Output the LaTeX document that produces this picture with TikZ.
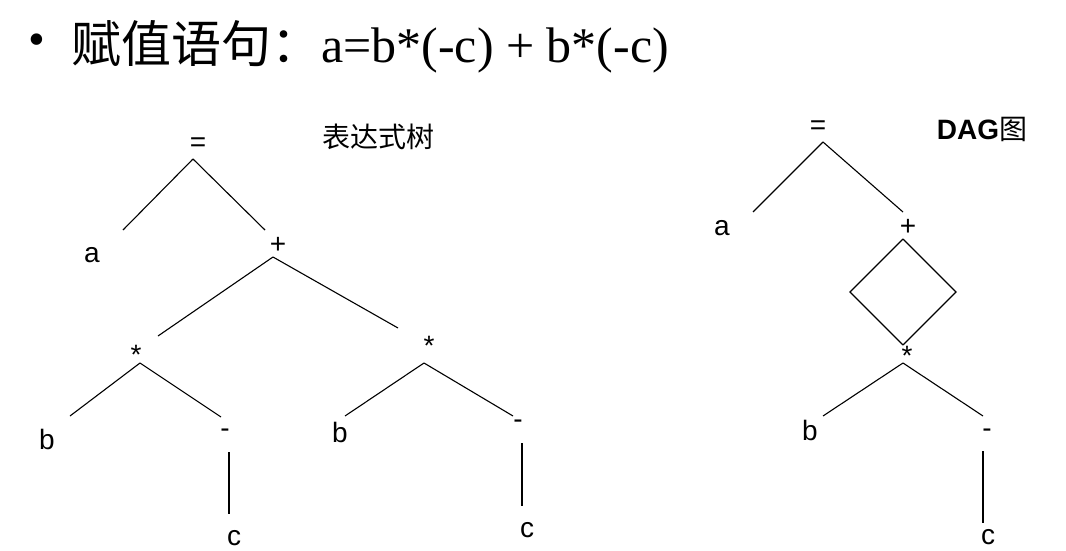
\documentclass[tikz,border=0pt]{standalone}
\usepackage{fontspec}
\setmainfont{Liberation Serif}
\newfontfamily\cjk{Noto Sans CJK SC}
\newfontfamily\arial{Liberation Sans}
\tikzset{
	lbl/.style={font=\arial\fontsize{28}{30}\selectfont, inner sep=0pt},
	edge/.style={line width=1.1pt},
}

\begin{document}
\begin{tikzpicture}[x=1pt, y=-1pt]
			%%%%% START %%%%%
			\useasboundingbox (0, 0) rectangle (1066, 551);
			
			\node[inner sep=0pt, font=\fontsize{48}{50}\selectfont] (bul) at (37, 45) {\textbullet};
			\node[anchor=base west, inner sep=0pt, font=\fontsize{50}{52}\selectfont] (title) at (71, 63) {{\cjk 赋值语句：}a=b*(-c) + b*(-c)};
			
			%%%%% expression tree %%%%%
			\node[inner sep=0pt, font=\cjk\fontsize{28}{30}\selectfont] (t-name) at (378, 137) {表达式树};
			
			\node[lbl] (t-eq) at (198, 145) {=};
			\node[lbl] (t-a) at (92, 255) {a};
			\node[lbl] (t-plus) at (278, 245) {+};
			\node[lbl] (t-mul1) at (136, 355) {*};
			\node[lbl] (t-mul2) at (429, 346) {*};
			\node[lbl] (t-b1) at (47, 439) {b};
			\node[lbl] (t-neg1) at (225, 433) {-};
			\node[lbl] (t-c1) at (234, 538) {c};
			\node[lbl] (t-b2) at (340, 432) {b};
			\node[lbl] (t-neg2) at (518, 424) {-};
			\node[lbl] (t-c2) at (527, 530) {c};
			
			\coordinate (t-eq-tip) at (193, 159);
			\coordinate (t-a-end) at (123, 230);
			\coordinate (t-plus-end) at (265, 230);
			\coordinate (t-plus-tip) at (273, 257);
			\coordinate (t-mul1-end) at (158, 336);
			\coordinate (t-mul1-tip) at (140, 363);
			\coordinate (t-mul2-end) at (398, 328);
			\coordinate (t-mul2-tip) at (424, 363);
			\coordinate (t-b1-end) at (70, 416);
			\coordinate (t-neg1-end) at (221, 417);
			\coordinate (t-neg1-tip) at (229, 452);
			\coordinate (t-c1-end) at (229, 514);
			\coordinate (t-b2-end) at (345, 416);
			\coordinate (t-neg2-end) at (513, 416);
			\coordinate (t-neg2-tip) at (522, 443);
			\coordinate (t-c2-end) at (522, 506);
			
			\draw[edge] (t-eq-tip) -- (t-a-end);
			\draw[edge] (t-eq-tip) -- (t-plus-end);
			\draw[edge] (t-plus-tip) -- (t-mul1-end);
			\draw[edge] (t-plus-tip) -- (t-mul2-end);
			\draw[edge] (t-mul1-tip) -- (t-b1-end);
			\draw[edge] (t-mul1-tip) -- (t-neg1-end);
			\draw[edge] (t-neg1-tip) -- (t-c1-end);
			\draw[edge] (t-mul2-tip) -- (t-b2-end);
			\draw[edge] (t-mul2-tip) -- (t-neg2-end);
			\draw[edge] (t-neg2-tip) -- (t-c2-end);
			
			%%%%% DAG %%%%%
			\node[inner sep=0pt, font=\arial\bfseries\fontsize{28}{30}\selectfont] (d-name) at (982, 129) {DAG{\cjk\mdseries 图}};
			
			\node[lbl] (d-eq) at (818, 128) {=};
			\node[lbl] (d-a) at (722, 228) {a};
			\node[lbl] (d-plus) at (908, 227) {+};
			\node[lbl] (d-mul) at (907, 356) {*};
			\node[lbl] (d-b) at (810, 430) {b};
			\node[lbl] (d-neg) at (987, 433) {-};
			\node[lbl] (d-c) at (988, 537) {c};
			
			\coordinate (d-eq-tip) at (823, 142);
			\coordinate (d-a-end) at (753, 212);
			\coordinate (d-plus-end) at (903, 212);
			\coordinate (d-plus-tip) at (903, 239);
			\coordinate (d-left) at (850, 292);
			\coordinate (d-right) at (956, 292);
			\coordinate (d-mul-end) at (903, 345);
			\coordinate (d-mul-tip) at (903, 363);
			\coordinate (d-b-end) at (823, 416);
			\coordinate (d-neg-end) at (983, 416);
			\coordinate (d-neg-tip) at (983, 451);
			\coordinate (d-c-end) at (983, 523);
			
			\draw[edge] (d-eq-tip) -- (d-a-end);
			\draw[edge] (d-eq-tip) -- (d-plus-end);
			\draw[edge] (d-plus-tip) -- (d-left) -- (d-mul-end);
			\draw[edge] (d-plus-tip) -- (d-right) -- (d-mul-end);
			\draw[edge] (d-mul-tip) -- (d-b-end);
			\draw[edge] (d-mul-tip) -- (d-neg-end);
			\draw[edge] (d-neg-tip) -- (d-c-end);
			
			%%%%% END %%%%%
\end{tikzpicture}
\end{document}
